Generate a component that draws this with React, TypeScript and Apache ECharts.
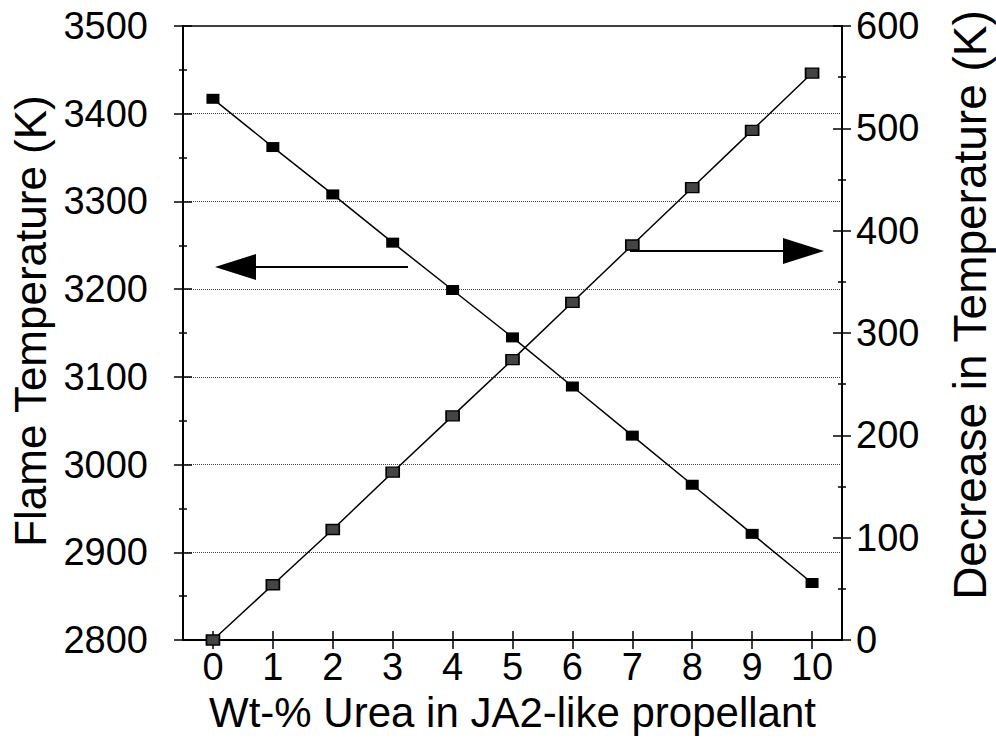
import React, { useEffect, useRef } from "react";
import * as echarts from "echarts";

const categories = ["0", "1", "2", "3", "4", "5", "6", "7", "8", "9", "10"];
const flameTemperature = [3417, 3362, 3308, 3253, 3199, 3145, 3089, 3033, 2977, 2921, 2865];
const temperatureDecrease = [0, 54, 108, 164, 219, 274, 330, 386, 442, 498, 554];
const leftTicks = { min: 2800, max: 3500, interval: 100 };
const rightTicks = { min: 0, max: 600, interval: 100 };

const FONT = "'Liberation Sans', Arial, Helvetica, sans-serif";

export default function App() {
  const ref = useRef<HTMLDivElement>(null);

  useEffect(() => {
    document.body.style.margin = "0";
    if (!ref.current) return;
    const chart = echarts.init(ref.current, undefined, { renderer: "svg" });

    const axisLineStyle = { color: "#000", width: 2 };
    const tickLineStyle = { color: "#000", width: 1.5 };
    const labelStyle = { fontSize: 38, color: "#000", fontFamily: FONT };
    const plain = (v: number) => String(v);

    const option: any = {
      animation: false,
      backgroundColor: "#fff",
      grid: {
        left: 183,
        right: 154,
        top: 26,
        bottom: 104,
        outerBoundsMode: "none",
        containLabel: false,
        show: true,
        borderColor: "#000",
        borderWidth: 1.5,
        backgroundColor: "transparent",
      },
      xAxis: [
        {
          type: "category",
          data: categories,
          boundaryGap: true,
          position: "bottom",
          axisLine: { show: true, lineStyle: axisLineStyle },
          axisTick: { show: true, alignWithLabel: true, interval: 0, length: 9, lineStyle: tickLineStyle },
          axisLabel: { ...labelStyle, interval: 0, margin: 8 },
          splitLine: { show: false },
          name: "Wt-% Urea in JA2-like propellant",
          nameLocation: "middle",
          nameGap: 51,
          nameTextStyle: { fontSize: 42, color: "#000", fontFamily: FONT },
        },
        {
          type: "category",
          data: categories,
          boundaryGap: true,
          position: "bottom",
          offset: 0,
          axisLine: { show: false },
          axisTick: { show: true, inside: true, alignWithLabel: true, interval: 0, length: 9, lineStyle: tickLineStyle },
          axisLabel: { show: false },
          splitLine: { show: false },
        },
      ],
      yAxis: [
        {
          type: "value",
          position: "left",
          ...leftTicks,
          axisLine: { show: true, lineStyle: axisLineStyle },
          axisTick: { show: true, length: 9, lineStyle: tickLineStyle },
          minorTick: { show: true, splitNumber: 2, length: 4, lineStyle: tickLineStyle },
          axisLabel: { ...labelStyle, margin: 35, formatter: plain },
          splitLine: { show: true, lineStyle: { type: "dotted", color: "#444", width: 1 } },
          name: "Flame Temperature (K)",
          nameLocation: "middle",
          nameRotate: 90,
          nameGap: 128,
          nameTextStyle: { fontSize: 44, color: "#000", fontFamily: FONT, padding: [0, 0, 0, 24] },
        },
        {
          type: "value",
          position: "right",
          ...rightTicks,
          axisLine: { show: true, lineStyle: axisLineStyle },
          axisTick: { show: true, length: 9, lineStyle: tickLineStyle },
          minorTick: { show: true, splitNumber: 2, length: 4, lineStyle: tickLineStyle },
          axisLabel: { ...labelStyle, margin: 14, formatter: plain },
          splitLine: { show: false },
          name: "Decrease in Temperature (K)",
          nameLocation: "middle",
          nameRotate: 90,
          nameGap: 105,
          nameTextStyle: { fontSize: 46, color: "#000", fontFamily: FONT, padding: [0, 0, 0, 56] },
        },
        {
          type: "value",
          position: "left",
          offset: 0,
          ...leftTicks,
          axisLine: { show: false },
          axisTick: { show: true, inside: true, length: 9, lineStyle: tickLineStyle },
          minorTick: { show: true, splitNumber: 2, length: 4, lineStyle: tickLineStyle },
          axisLabel: { show: false },
          splitLine: { show: false },
        },
        {
          type: "value",
          position: "right",
          offset: 0,
          ...rightTicks,
          axisLine: { show: false },
          axisTick: { show: true, inside: true, length: 9, lineStyle: tickLineStyle },
          minorTick: { show: true, splitNumber: 2, length: 4, lineStyle: tickLineStyle },
          axisLabel: { show: false },
          splitLine: { show: false },
        },
      ],
      series: [
        {
          name: "Flame Temperature",
          type: "line",
          xAxisIndex: 0,
          yAxisIndex: 0,
          data: flameTemperature,
          symbol: "rect",
          symbolSize: [13, 10],
          itemStyle: { color: "#000" },
          lineStyle: { color: "#000", width: 1.5 },
          z: 3,
        },
        {
          name: "Decrease in Temperature",
          type: "line",
          xAxisIndex: 0,
          yAxisIndex: 1,
          data: temperatureDecrease,
          symbol: "rect",
          symbolSize: [13, 10],
          itemStyle: { color: "#444", borderColor: "#000", borderWidth: 1.5 },
          lineStyle: { color: "#000", width: 1.5 },
          z: 3,
        },
        {
          name: "tick-helper-left",
          type: "line",
          xAxisIndex: 1,
          yAxisIndex: 2,
          data: flameTemperature,
          symbol: "none",
          silent: true,
          lineStyle: { opacity: 0 },
          tooltip: { show: false },
        },
        {
          name: "tick-helper-right",
          type: "line",
          xAxisIndex: 1,
          yAxisIndex: 3,
          data: temperatureDecrease,
          symbol: "none",
          silent: true,
          lineStyle: { opacity: 0 },
          tooltip: { show: false },
        },
      ],
      graphic: [
        { type: "line", shape: { x1: 254, y1: 267, x2: 408, y2: 267 }, style: { stroke: "#000", lineWidth: 2 } },
        { type: "polygon", shape: { points: [[215, 267], [256, 254], [256, 280]] }, style: { fill: "#000" } },
        { type: "line", shape: { x1: 630, y1: 251, x2: 785, y2: 251 }, style: { stroke: "#000", lineWidth: 2 } },
        { type: "polygon", shape: { points: [[824, 251], [783, 238], [783, 264]] }, style: { fill: "#000" } },
      ],
    };

    chart.setOption(option);
    return () => chart.dispose();
  }, []);

  return <div ref={ref} style={{ width: 996, height: 744 }} />;
}
